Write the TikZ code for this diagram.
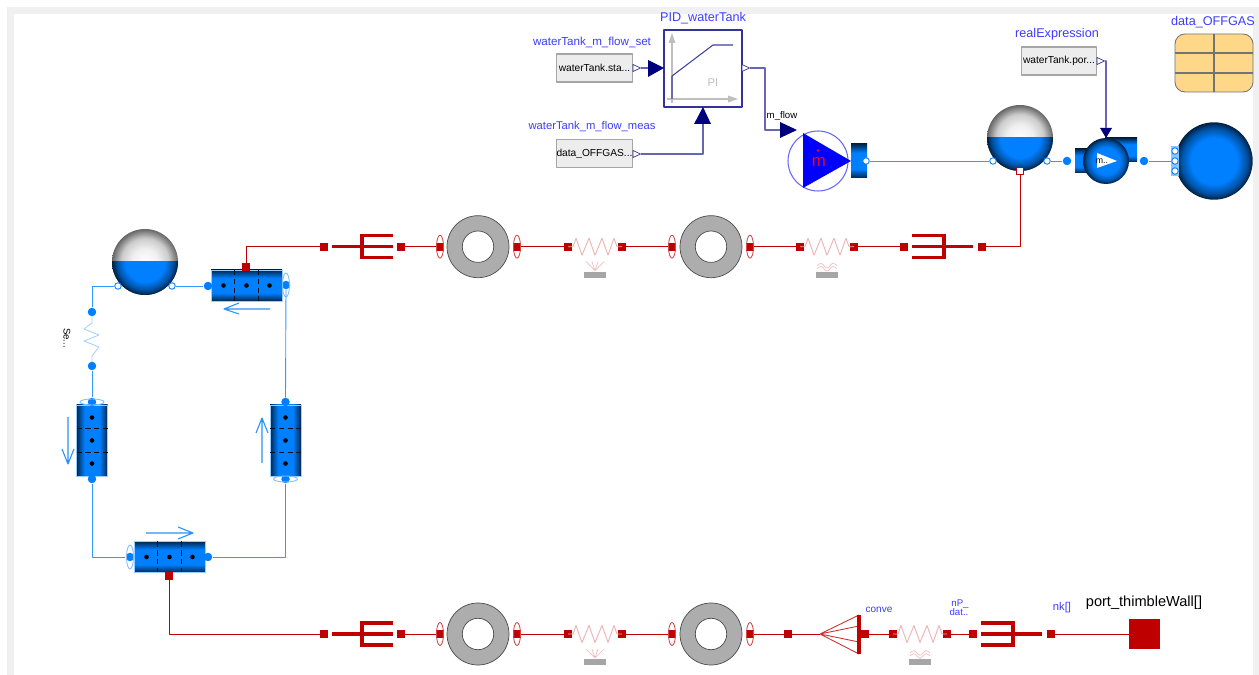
\documentclass[tikz,border=0pt]{standalone}
\usepackage{fontspec}
\setmainfont{Liberation Sans}
\usetikzlibrary{shadings}

\definecolor{heatred}{RGB}{191,0,0}
\definecolor{flowblue}{RGB}{0,127,255}
\definecolor{signalblue}{RGB}{0,0,127}
\definecolor{labelblue}{RGB}{60,60,255}
\definecolor{tableorange}{RGB}{255,215,136}

\pgfdeclareradialshading{blueball}{\pgfpoint{0bp}{0bp}}{%
	color(0bp)=(flowblue); color(15bp)=(flowblue); color(21bp)=(black!35!flowblue); color(25bp)=(black!75!flowblue); color(50bp)=(black)}
\pgfdeclareradialshading{grayball}{\pgfpoint{0bp}{0bp}}{%
	color(0bp)=(white); color(10bp)=(black!6); color(18bp)=(black!20); color(25bp)=(black!60); color(50bp)=(black)}
\pgfdeclareverticalshading{pipeshade}{100bp}{%
	color(0bp)=(black!70!flowblue); color(25bp)=(black!70!flowblue); color(38bp)=(flowblue); color(62bp)=(flowblue); color(75bp)=(black!70!flowblue); color(100bp)=(black!70!flowblue)}

\tikzset{
	hport/.style={fill=heatred, minimum size=0.16cm, inner sep=0pt},
	wire/.style={heatred, line width=0.55pt},
	pipewire/.style={flowblue!80!white, line width=0.5pt},
	sigwire/.style={signalblue!60!white, line width=0.6pt},
	dotport/.style={circle, fill=flowblue, minimum size=0.17cm, inner sep=0pt},
	openport/.style={circle, draw=flowblue, fill=white, line width=0.5pt, minimum size=0.13cm, inner sep=0pt},
	exprbox/.style={draw=black!35, line width=1pt, fill=black!7, minimum width=1.5cm, minimum height=0.56cm, inner sep=0pt, font=\fontsize{5.8}{6}\selectfont},
	lab/.style={labelblue, inner sep=0pt, font=\fontsize{6.6}{7}\selectfont},
	blk/.style={black, inner sep=0pt, font=\fontsize{5.5}{7}\selectfont},
	flange/.style={heatred!70!white, line width=0.5pt},
	flowring/.style={flowblue!50!white, line width=0.5pt},
	flowarrow/.style={flowblue!85!white, line width=0.6pt},
	forkline/.style={heatred, line width=2pt, line join=miter},
	pics/ring/.style={code={
		\draw[black!70, fill=black!32, line width=0.4pt] (0,0) circle[radius=31];
		\draw[black!70, fill=white, line width=0.4pt] (0,0) circle[radius=15.7];
	}},
	pics/resistor/.style={code={
		\draw[heatred!30!white, line width=0.5pt] (-27,0) -- (-22,0) -- (-19,-8.5) -- (-13,8.5) -- (-6,-8.5) -- (0,8.5) -- (7,-8.5) -- (13,8.5) -- (19,-8.5) -- (22,0) -- (27,0);
		\fill[black!35] (-11,25.5) rectangle (11,31);
	}},
	pics/rayfan/.style={code={
		\draw[heatred!25!white, line width=0.4pt] (-9,15) -- (0,24) -- (9,15) (-3,15) -- (0,24) -- (3,15);
	}},
	pics/wavyfan/.style={code={
		\foreach \w in {19,22} {
			\draw[heatred!25!white, line width=0.4pt] (-10,\w) .. controls (-7,\w-3) and (-5,\w-3) .. (-3,\w) .. controls (-1,\w+3) and (1,\w+3) .. (3,\w) .. controls (5,\w-3) and (7,\w-3) .. (10,\w);
		}
	}},
	pics/forkright/.style={code={
		\draw[forkline] (0,0) -- (61,0);
		\draw[forkline] (61,-11) -- (30,-11) -- (30,11) -- (61,11);
	}},
	pics/forkleft/.style={code={
		\draw[forkline] (0,0) -- (61,0);
		\draw[forkline] (0,-11) -- (32,-11) -- (32,11) -- (0,11);
	}},
	pics/pipebody/.style={code={
		\shade[shading=pipeshade, draw=flowblue!40!white, line width=0.2pt] (-35.5,-15.5) rectangle (35.5,15.5);
		\draw[densely dashed, black!85!flowblue, line width=0.4pt] (-12,-15.5) -- (-12,15.5) (11.5,-15.5) -- (11.5,15.5);
		\foreach \d in {-23,0,23} {
			\fill (\d,0) circle[radius=2.3];
		}
	}},
	pics/pipebodyv/.style={code={
		\shade[shading=pipeshade, shading angle=90, draw=flowblue!40!white, line width=0.2pt] (-15.5,-35.5) rectangle (15.5,35.5);
		\draw[densely dashed, black!85!flowblue, line width=0.4pt] (-15.5,-12) -- (15.5,-12) (-15.5,11.5) -- (15.5,11.5);
		\foreach \d in {-23,0,23} {
			\fill (0,\d) circle[radius=2.3];
		}
	}},
	pics/tank/.style={code={
		\shade[shading=grayball] (0,0) circle[radius=33];
		\begin{scope}
			\clip (-34,0) rectangle (34,34);
			\shade[shading=blueball] (0,0) circle[radius=33];
		\end{scope}
	}},
}

\begin{document}
\begin{tikzpicture}[x=0.02cm, y=-0.02cm, line join=round, >=stealth]

	\useasboundingbox (0,0) rectangle (1259,675);
	\fill[white] (0,0) rectangle (1259,675);
	\fill[black!6] (7,7) rectangle (1259,14);
	\fill[black!6] (7,7) rectangle (14,675);
	\fill[black!6] (1253,7) rectangle (1259,675);

	% top row of heat ports
	\foreach \n/\x in {a/324,b/401,c/440,d/517,e/568,f/622,g/672,h/750,i/800,j/854,k/904,l/982} {
		\node[hport] (t\n) at (\x,246.7) {};
	}
	% bottom row of heat ports
	\foreach \n/\x in {a/324,b/401,c/440,d/517,e/568,f/622,g/672,h/750,i/788,j/865,k/893,l/947,m/973,n/1051} {
		\node[hport] (u\n) at (\x,634) {};
	}

	\foreach \x in {440,517,672,750} {
		\draw[flange] (\x,246.7) ellipse[x radius=3.5, y radius=11.5];
		\draw[flange] (\x,634) ellipse[x radius=3.5, y radius=11.5];
	}
	\pic at (478,246.7) {ring};
	\pic at (711,246.7) {ring};
	\pic at (478,634) {ring};
	\pic at (711,634) {ring};

	\pic at (595,246.7) {resistor};
	\pic at (827,246.7) {resistor};
	\pic at (595,634) {resistor};
	\pic at (920,634) {resistor};
	\pic at (595,246.7) {rayfan};
	\pic at (595,634) {rayfan};
	\pic at (827,246.7) {wavyfan};
	\pic at (920,634) {wavyfan};

	\pic at (332,246.7) {forkright};
	\pic at (912,246.7) {forkleft};
	\pic at (332,634) {forkright};
	\pic at (981,634) {forkleft};

	% cone in front of the last resistor
	\draw[heatred!80!white, line width=0.5pt] (820,634) -- (859,615) (820,634) -- (859,626) (820,634) -- (859,642) (820,634) -- (859,654);
	\draw[forkline] (859,615) -- (859,654);
	\coordinate (conetip) at (820,634);
	\coordinate (conebase) at (859,634);

	% pipes of the loop
	\pic at (246.5,285.5) {pipebody};
	\pic at (169.5,557) {pipebody};
	\pic at (92,440.5) {pipebodyv};
	\pic at (285.5,440.5) {pipebodyv};

	\pic at (145,262) {tank};
	\pic at (1020,138) {tank};

	\node[hport] (hta) at (246,267) {};
	\node[hport] (htb) at (169,576) {};

	\node[dotport] (pa) at (208,286) {};
	\node[dotport] (pb) at (286,285) {};
	\node[dotport] (pc) at (285.5,402) {};
	\node[dotport] (pd) at (285.5,479) {};
	\node[dotport] (pe) at (92,402) {};
	\node[dotport] (pf) at (92,479) {};
	\node[dotport] (pg) at (130,557) {};
	\node[dotport] (ph) at (208,557) {};
	\node[dotport] (pi) at (92,312) {};
	\node[dotport] (pj) at (92,366) {};
	\node[openport] (tka) at (118,286) {};
	\node[openport] (tkb) at (172,286) {};

	\draw[flowring] (pb) ellipse[x radius=3.5, y radius=12];
	\draw[flowring] (pg) ellipse[x radius=3.5, y radius=12];
	\draw[flowring] (pe) ellipse[x radius=12, y radius=3];
	\draw[flowring] (pd) ellipse[x radius=12, y radius=3];

	\draw[flowblue!35!white, line width=0.5pt] (92,316) -- (92,323) -- (84,329) -- (99,335) -- (84,341) -- (99,347) -- (92,356) -- (92,362);

	\draw[pipewire] (tka) -| (pi);
	\draw[pipewire] (tkb) -- (pa);
	\draw[pipewire] (pb) -- (pc);
	\draw[pipewire] (pj) -- (pe);
	\draw[pipewire] (pf) |- (pg);
	\draw[pipewire] (pd) |- (ph);

	% flow direction arrows
	\draw[flowarrow] (270,309) -- (224,309) -- (239,303) (224,309) -- (239,314);
	\draw[flowarrow] (146,533) -- (193,533) -- (178,527) (193,533) -- (178,539);
	\draw[flowarrow] (68,417) -- (68,464) -- (62,449) (68,464) -- (74,449);
	\draw[flowarrow] (262,463) -- (262,418) -- (256,433) (262,418) -- (268,433);

	\node[blk, rotate=-90] at (67,338) {Se...};

	% heat wires
	\draw[wire] (hta) |- (ta);
	\draw[wire] (tb) -- (tc);
	\draw[wire] (td) -- (te);
	\draw[wire] (tf) -- (tg);
	\draw[wire] (th) -- (ti);
	\draw[wire] (tj) -- (tk);
	\draw[wire] (htb) |- (ua);
	\draw[wire] (ub) -- (uc);
	\draw[wire] (ud) -- (ue);
	\draw[wire] (uf) -- (ug);
	\draw[wire] (uh) -- (ui);
	\draw[wire] (ui) -- (conetip);
	\draw[wire] (conebase) -- (uj);
	\draw[wire] (uj) -- (uk);
	\draw[wire] (ul) -- (um);

	\node[fill=heatred, minimum size=0.62cm, inner sep=0pt] (thimble) at (1144.5,634) {};
	\draw[wire] (un) -- (thimble);

	\node[lab, font=\fontsize{5.7}{6}\selectfont] at (879,610) {conve};
	\node[lab, font=\fontsize{5.5}{6}\selectfont] at (960,604.5) {nP\_};
	\node[lab, font=\fontsize{5.5}{6}\selectfont] at (959,612) {dat..};
	\node[lab, font=\fontsize{6.4}{7}\selectfont] at (1062,608) {nk[]};
	\node[black, inner sep=0pt, font=\fontsize{8.3}{9}\selectfont] at (1144,603) {port\_thimbleWall[]};

	% tank on the off gas line
	\node[draw=heatred, fill=white, line width=0.6pt, minimum size=0.13cm, inner sep=0pt] (tankheat) at (1020,171) {};
	\draw[wire] (tl) -| (tankheat);
	\node[openport] (tc1) at (993,161) {};
	\node[openport] (tc2) at (1047,161) {};
	\node[dotport] (sa) at (1067,161) {};
	\node[dotport] (sb) at (1144,161) {};
	\draw[pipewire] (tc2) -- (sa);

	% pump
	\shade[shading=pipeshade] (851,144) rectangle (867,178);
	\node[circle, draw=blue!60!white, line width=0.6pt, minimum size=1.2cm, inner sep=0pt] (pump) at (818,161) {};
	\fill[blue] (803,133) -- (803,188) -- (851,161) -- cycle;
	\node[red, inner sep=0pt, font=\fontsize{9.6}{10}\selectfont] (mdot) at (819,161.5) {m};
	\fill[red] (818,150.5) circle[radius=1.5];
	\node[openport] (pumpout) at (866,161) {};
	\draw[pipewire] (pumpout) -- (tc1);

	% mass flow sensor
	\shade[shading=pipeshade] (1075,149) rectangle (1110,173);
	\shade[shading=pipeshade] (1105,138) rectangle (1137,162);
	\shade[shading=blueball] (1106,161) circle[radius=23];
	\fill[white] (1097,153) -- (1097,168) -- (1117,161) -- cycle;
	\node[blk, font=\fontsize{5}{6}\selectfont] (msens) at (1102,161) {m..};

	% boundary sphere
	\shade[shading=blueball] (1214,161) circle[radius=38.7];
	\fill[flowblue!45!white] (1171,146) rectangle (1179,176);
	\node[openport] (ba) at (1175,151) {};
	\node[openport] (bb) at (1175,161) {};
	\node[openport] (bc) at (1175,171) {};
	\draw[pipewire] (sb) -- (bb);

	% table
	\draw[black!55, fill=tableorange, rounded corners=0.2cm, line width=0.5pt] (1175,34) rectangle (1253,92);
	\draw[black!55, line width=0.6pt] (1214,34) -- (1214,92) (1175,53) -- (1253,53) (1175,73) -- (1253,73);
	\node[lab, font=\fontsize{7.2}{8}\selectfont] at (1213,22) {data\_OFFGAS};

	% signal blocks
	\node[exprbox, minimum width=1.52cm] (setbox) at (594.5,68) {waterTank.sta...};
	\node[exprbox, minimum width=1.52cm] (measbox) at (594.5,153.5) {data\_OFFGAS...};
	\node[exprbox, minimum width=1.5cm] (exprreal) at (1059,61) {waterTank.por...};
	\node[lab] at (592,42) {waterTank\_m\_flow\_set};
	\node[lab, font=\fontsize{6.4}{7}\selectfont] at (592,127) {waterTank\_m\_flow\_meas};
	\node[lab, font=\fontsize{7.2}{8}\selectfont] at (1057,34) {realExpression};

	\node[draw=signalblue!80!white, fill=white, line width=0.7pt, minimum width=1.56cm, minimum height=1.54cm, inner sep=0pt] (pid) at (703,68.5) {};
	\node[lab, font=\fontsize{7.2}{8}\selectfont] at (703,18) {PID\_waterTank};
	\draw[black!25, line width=0.6pt] (672,103) -- (672,40);
	\fill[black!25] (672,33) -- (668.5,43) -- (675.5,43) -- cycle;
	\draw[black!25, line width=0.6pt] (667,99) -- (730,99);
	\fill[black!25] (738,99) -- (728,95.5) -- (728,102.5) -- cycle;
	\draw[signalblue!75!white, line width=0.6pt] (672,99) -- (672,76) -- (713,45) -- (733,45);
	\node[black!25, inner sep=0pt, font=\fontsize{6.4}{7}\selectfont] (pitext) at (713,83) {PI};

	% output and input triangles
	\foreach \n/\x/\y in {oa/633/68,ob/633/154,oc/742/68,od/1097/61} {
		\draw[signalblue!80!white, fill=white, line width=0.4pt] (\x,\y-3.5) -- (\x+7.5,\y) -- (\x,\y+3.5) -- cycle;
		\coordinate (\n) at (\x+7.5,\y);
	}
	\fill[signalblue] (648,60) -- (664,68) -- (648,77) -- cycle;
	\fill[signalblue] (694,124) -- (703,107) -- (711,124) -- cycle;
	\fill[signalblue] (780,122) -- (797,130) -- (780,138) -- cycle;
	\fill[signalblue] (1100,128) -- (1106,138) -- (1112,128) -- cycle;
	\coordinate (ia) at (648,68);
	\coordinate (ib) at (703,124);
	\coordinate (ic) at (780,130);
	\coordinate (id) at (1106,128);

	\draw[sigwire] (oa) -- (ia);
	\draw[sigwire] (ob) -| (ib);
	\draw[sigwire] (oc) -- (765,68) |- (ic);
	\draw[sigwire] (od) -| (id);

	\node[blk] at (782,116) {m\_flow};

\end{tikzpicture}
\end{document}
